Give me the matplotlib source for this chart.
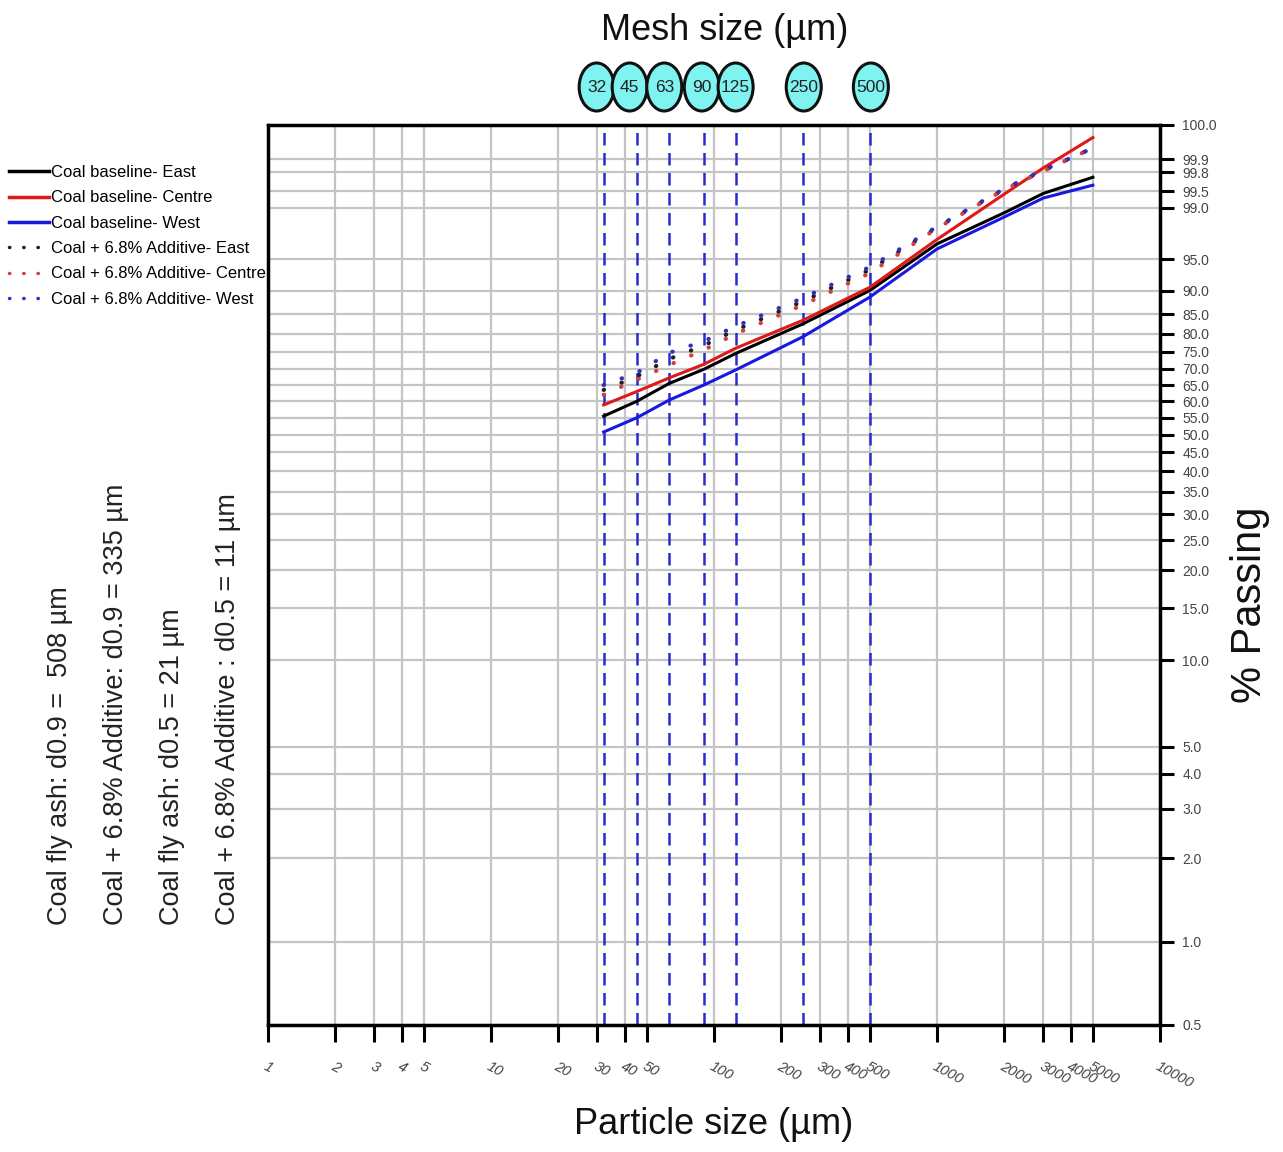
import numpy as np
import matplotlib
matplotlib.use("Agg")
import matplotlib.pyplot as plt
from matplotlib.lines import Line2D
from matplotlib.patches import Ellipse

plt.rcParams['font.family'] = ['Liberation Sans', 'DejaVu Sans']

# particle sizes (um) where the curves are read
sizes = [32, 45, 63, 90, 125, 250, 500, 1000, 2000, 3000, 5000]

# % passing, baseline coal fly ash
base_east = [55.5, 60.0, 65.5, 69.8, 74.5, 82.6, 90.1, 96.7, 98.8, 99.45, 99.74]
base_centre = [58.9, 63.0, 67.2, 71.3, 76.0, 83.5, 90.7, 97.1, 99.43, 99.84, 99.975]
base_west = [50.8, 55.0, 60.4, 65.0, 69.6, 79.2, 88.8, 96.2, 98.6, 99.33, 99.62]

# % passing, coal + 6.8% additive
add_east = [63.5, 67.6, 72.9, 76.8, 81.0, 87.9, 93.6, 98.0, 99.54, 99.815, 99.95]
add_centre = [62.0, 66.6, 71.1, 75.5, 80.0, 87.1, 93.1, 97.95, 99.53, 99.81, 99.95]
add_west = [65.0, 68.7, 74.7, 78.0, 82.0, 88.6, 94.0, 98.05, 99.55, 99.82, 99.95]

mesh_sizes = [32, 45, 63, 90, 125, 250, 500]

x_ticks = [1, 2, 3, 4, 5, 10, 20, 30, 40, 50, 100, 200, 300, 400, 500,
           1000, 2000, 3000, 4000, 5000, 10000]
y_ticks = [0.5, 1, 2, 3, 4, 5, 10, 15, 20, 25, 30, 35, 40, 45, 50, 55, 60,
           65, 70, 75, 80, 85, 90, 95, 99, 99.5, 99.8, 99.9, 99.99]
y_labels = ['%.1f' % v for v in y_ticks[:-1]] + ['100.0']

notes = ["Coal fly ash: d0.9 =  508 \u00b5m",
         "Coal + 6.8% Additive: d0.9 = 335 \u00b5m",
         "Coal fly ash: d0.5 = 21 \u00b5m",
         "Coal + 6.8% Additive : d0.5 = 11 \u00b5m"]


# Rosin-Rammler style probability scale
def rr_fwd(p):
    p = np.clip(np.asarray(p, dtype=float), 1e-6, 99.99999)
    return np.log(-np.log(1 - p / 100.0))


def rr_inv(y):
    return 100.0 * (1 - np.exp(-np.exp(y)))


fig = plt.figure(figsize=(12.83, 11.52), dpi=100)
ax = fig.add_axes([268 / 1283, 127 / 1152, 892 / 1283, 900 / 1152])
ax.set_xscale('log')
ax.set_yscale('function', functions=(rr_fwd, rr_inv))
ax.set_xlim(1, 10000)
ax.set_ylim(0.5, 99.99)

# grid
for v in x_ticks:
    ax.axvline(v, color='#c4c4c4', lw=1.6, zorder=1)
for v in y_ticks:
    ax.axhline(v, color='#c4c4c4', lw=1.6, zorder=1)

# mesh lines
for m in mesh_sizes:
    ax.axvline(m, color='#2a2ad0', lw=1.8, ls=(0, (5, 3)), zorder=2)

ax.plot(sizes, base_east, color='black', lw=2.2, zorder=4)
ax.plot(sizes, base_centre, color='#e01818', lw=2.2, zorder=4)
ax.plot(sizes, base_west, color='#1818e0', lw=2.2, zorder=4)
dot = (0, (0.1, 4.5))
ax.plot(sizes, add_east, color='#202020', lw=3, ls=dot, dash_capstyle='round', zorder=5)
ax.plot(sizes, add_centre, color='#d04040', lw=3, ls=dot, dash_capstyle='round', zorder=5)
ax.plot(sizes, add_west, color='#3030c0', lw=3, ls=dot, dash_capstyle='round', zorder=5)

for s in ax.spines.values():
    s.set_linewidth(2.5)
    s.set_color('black')

ax.set_xticks(x_ticks)
ax.xaxis.set_minor_locator(matplotlib.ticker.NullLocator())
ax.set_xticklabels([str(v) for v in x_ticks], rotation=-28, ha='left',
                   rotation_mode='anchor', fontstyle='italic', fontsize=10.5,
                   color='#444444')
ax.tick_params(axis='x', direction='out', length=12, width=2.2, pad=13)

ax.yaxis.tick_right()
ax.set_yticks(y_ticks)
ax.yaxis.set_minor_locator(matplotlib.ticker.NullLocator())
ax.set_yticklabels(y_labels, fontsize=10, color='#444444')
ax.tick_params(axis='y', direction='out', length=10, width=2.2, pad=6)

# mesh size circles above the plot (nudged in pixels so they sit side by side)
nudge = [-7, -7, -5, -2, 0, 1, 1]
yc = 1 - 87 / 1152
for m, dx in zip(mesh_sizes, nudge):
    xd = ax.transData.transform((m, 50))[0] + dx
    xf = fig.transFigure.inverted().transform((xd, 0))[0]
    fig.add_artist(Ellipse((xf, yc), 35 / 1283, 48 / 1152, transform=fig.transFigure,
                           facecolor='#7ff3f0', edgecolor='#111111', lw=2.2))
    fig.text(xf, yc, str(m), ha='center', va='center', fontsize=12.5, color='#222222')

fig.text(0.565, 1 - 31 / 1152, 'Mesh size (\u00b5m)', ha='center', va='center',
         fontsize=26, color='#111111')
fig.text(0.5565, 1 - 1124 / 1152, 'Particle size (\u00b5m)', ha='center', va='center',
         fontsize=26, color='#111111')
fig.text(0.974, 1 - 605 / 1152, '% Passing', rotation=90, ha='center', va='center',
         fontsize=30, color='#111111')

for i, t in enumerate(notes):
    fig.text((60 + 56 * i) / 1283, 1 - 925 / 1152, t, rotation=90, ha='center',
             va='bottom', fontsize=19.5, color='#222222')

handles = [
    Line2D([], [], color='black', lw=2.5),
    Line2D([], [], color='#e01818', lw=2.5),
    Line2D([], [], color='#1818e0', lw=2.5),
    Line2D([], [], color='#202020', lw=2.5, ls=(0, (0.1, 4)), dash_capstyle='round'),
    Line2D([], [], color='#d04040', lw=2.5, ls=(0, (0.1, 4)), dash_capstyle='round'),
    Line2D([], [], color='#3030c0', lw=2.5, ls=(0, (0.1, 4)), dash_capstyle='round'),
]
labels = ['Coal baseline- East', 'Coal baseline- Centre', 'Coal baseline- West',
          'Coal + 6.8% Additive- East', 'Coal + 6.8% Additive- Centre',
          'Coal + 6.8% Additive- West']
fig.legend(handles, labels, loc='upper left', bbox_to_anchor=(0.007, 1 - 165 / 1152),
           frameon=False, fontsize=12, handlelength=2.4, handletextpad=0.15,
           labelspacing=0.62, borderaxespad=0, borderpad=0)

fig.savefig('out.png', dpi=100)
